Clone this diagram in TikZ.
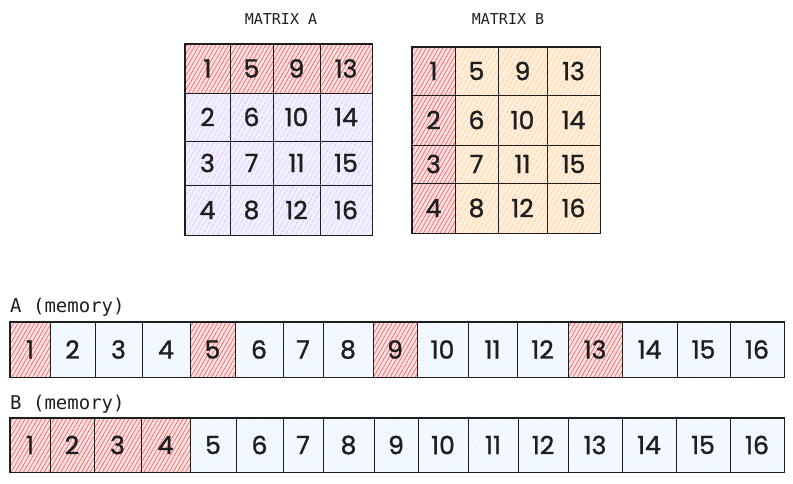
\documentclass[tikz,border=0pt]{standalone}
\usepackage{fontspec}
\setmainfont{Poppins}
\setmonofont{DejaVu Sans Mono}
\newfontfamily\digitfont{Poppins}[FakeBold=1.2]
\usetikzlibrary{patterns.meta}
\definecolor{ink}{HTML}{1E1E1E}
\definecolor{redbg}{HTML}{FFE0E0}
\definecolor{redln}{HTML}{EC6A6A}
\definecolor{lavbg}{HTML}{F4F0FF}
\definecolor{lavln}{HTML}{C4B3FF}
\definecolor{orabg}{HTML}{FFEFDC}
\definecolor{oraln}{HTML}{FFB866}
\definecolor{blubg}{HTML}{F4F9FF}
\definecolor{bluln}{HTML}{C2E2FA}
\tikzset{
  cellbase/.style={draw=ink, line width=0.9pt, inner sep=0pt, text=ink,
    font=\digitfont\fontsize{25}{25}\selectfont},
  redcell/.style={cellbase, preaction={fill=redbg},
    pattern={Lines[angle=60,distance=3.6pt,line width=0.7pt]}, pattern color=redln},
  lavcell/.style={cellbase, preaction={fill=lavbg},
    pattern={Lines[angle=60,distance=4pt,line width=0.55pt]}, pattern color=lavln},
  oracell/.style={cellbase, preaction={fill=orabg},
    pattern={Lines[angle=60,distance=4pt,line width=0.55pt]}, pattern color=oraln},
  blucell/.style={cellbase, preaction={fill=blubg},
    pattern={Lines[angle=60,distance=4pt,line width=0.4pt]}, pattern color=bluln},
  outline/.style={draw=ink, line width=1.1pt},
  title/.style={text=ink, font=\ttfamily\fontsize{15}{15}\selectfont},
  memlabel/.style={text=ink, font=\ttfamily\fontsize{19}{19}\selectfont, anchor=base west, inner sep=0pt},
}
\begin{document}
\begin{tikzpicture}[x=1pt,y=-1pt]
\useasboundingbox (0,0) rectangle (793,484);
% Titles
\node[title] (titleA) at (281,19) {MATRIX A};
\node[title] (titleB) at (508,19) {MATRIX B};
% Matrix A
\foreach \c/\xl/\xr in {0/185/230,1/230/273,2/273/320,3/320/372}{
  \foreach \r/\yt/\yb in {0/44/93,1/93/141,2/141/185,3/185/235}{
    \pgfmathtruncatemacro\n{\c*4+\r+1}
    \ifnum\r=0 \def\st{redcell}\else\def\st{lavcell}\fi
    \node[\st, minimum width={(\xr-\xl)*1pt}, minimum height={(\yb-\yt)*1pt}]
      (a\r\c) at ({(\xl+\xr)/2},{(\yt+\yb)/2}) {\n};
  }
}
\draw[outline] (a00.north west) rectangle (a33.south east);
% Matrix B
\foreach \c/\xl/\xr in {0/412/455,1/455/498,2/498/547,3/547/600}{
  \foreach \r/\yt/\yb in {0/47/95,1/95/145,2/145/183,3/183/233}{
    \pgfmathtruncatemacro\n{\c*4+\r+1}
    \ifnum\c=0 \def\st{redcell}\else\def\st{oracell}\fi
    \node[\st, minimum width={(\xr-\xl)*1pt}, minimum height={(\yb-\yt)*1pt}]
      (b\r\c) at ({(\xl+\xr)/2},{(\yt+\yb)/2}) {\n};
  }
}
\draw[outline] (b00.north west) rectangle (b33.south east);
% Memory labels
\node[memlabel] (labA) at (10,312) {A (memory)};
\node[memlabel] (labB) at (10,409) {B (memory)};
% Memory A
\foreach \n/\l/\r/\st in {1/10/50/redcell,2/50/95/blucell,3/95/142/blucell,4/142/190/blucell,
  5/190/235/redcell,6/235/283/blucell,7/283/323/blucell,8/323/373/blucell,
  9/373/417/redcell,10/417/468/blucell,11/468/517/blucell,12/517/568/blucell,
  13/568/622/redcell,14/622/677/blucell,15/677/730/blucell,16/730/784/blucell}{
  \node[\st, minimum width={(\r-\l)*1pt}, minimum height=55pt]
    (ma\n) at ({(\l+\r)/2},349.5) {\n};
}
\draw[outline] (ma1.north west) rectangle (ma16.south east);
% Memory B
\foreach \n/\l/\r/\st in {1/10/50/redcell,2/50/94/redcell,3/94/141/redcell,4/141/190/redcell,
  5/190/236/blucell,6/236/283/blucell,7/283/323/blucell,8/323/374/blucell,
  9/374/418/blucell,10/418/468/blucell,11/468/518/blucell,12/518/568/blucell,
  13/568/622/blucell,14/622/676/blucell,15/676/730/blucell,16/730/784/blucell}{
  \node[\st, minimum width={(\r-\l)*1pt}, minimum height=54pt]
    (mb\n) at ({(\l+\r)/2},445) {\n};
}
\draw[outline] (mb1.north west) rectangle (mb16.south east);
\end{tikzpicture}
\end{document}
